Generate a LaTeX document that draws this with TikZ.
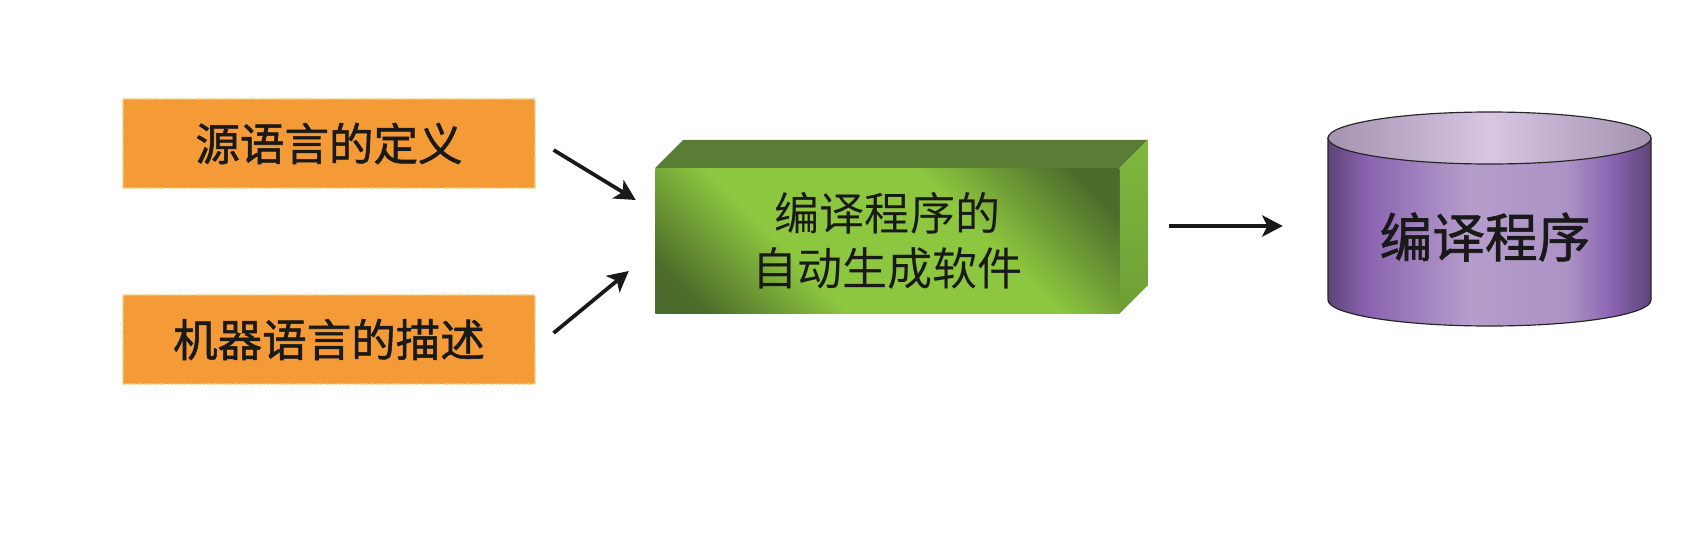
\documentclass[tikz,border=0pt]{standalone}
\usepackage{fontspec}
\newfontfamily\cjk{Noto Sans CJK SC}
\newfontfamily\cjkb{Noto Sans CJK SC}[FakeBold=1.2]
\usetikzlibrary{arrows.meta,calc}
\definecolor{orangefill}{HTML}{F49B38}
\definecolor{orangeedge}{HTML}{F9CF7E}
\definecolor{gdark}{HTML}{4A6B2B}
\definecolor{glight}{HTML}{8DC63F}
\definecolor{gtop}{HTML}{5A7D35}
\definecolor{gside}{HTML}{80B93F}
\definecolor{gsidedark}{HTML}{6E9E37}
\definecolor{cA}{HTML}{5E4479}
\definecolor{cB}{HTML}{8A63B0}
\definecolor{cC}{HTML}{B59DCB}
\definecolor{cD}{HTML}{AC92C5}
\definecolor{tA}{HTML}{A393AF}
\definecolor{tB}{HTML}{D8C6E3}
\pgfdeclarehorizontalshading{gface}{100bp}{color(0bp)=(gdark); color(20bp)=(gdark); color(37bp)=(glight); color(62bp)=(glight); color(80bp)=(gdark); color(100bp)=(gdark)}
\pgfdeclarehorizontalshading{cylbody}{100bp}{color(0bp)=(cA); color(25bp)=(cA); color(31bp)=(cB); color(47bp)=(cC); color(62bp)=(cD); color(69bp)=(cB); color(75bp)=(cA); color(100bp)=(cA)}
\pgfdeclarehorizontalshading{cyltop}{100bp}{color(0bp)=(tA); color(25bp)=(tA); color(50bp)=(tB); color(75bp)=(tA); color(100bp)=(tA)}
\tikzset{
  obox/.style={rectangle, fill=orangefill, draw=orangeedge, densely dotted, line width=1pt,
    minimum width=12.36cm, minimum height=2.67cm, inner sep=0pt,
    font=\cjkb\fontsize{38}{46}\selectfont, text=black!90},
  gbox/.style={rectangle, shading=gface, shading angle=45, minimum width=13.92cm,
    minimum height=4.35cm, inner sep=0pt, align=center,
    font=\cjk\fontsize{38.5}{47}\selectfont, text=black!90},
  arr/.style={line width=3.2pt, -{Stealth[length=0.62cm, width=0.64cm, inset=0.16cm]}, black!90},
  cyltext/.style={font=\cjkb\fontsize{45}{54}\selectfont, text=black!90, inner sep=0pt}
}
\begin{document}
\begin{tikzpicture}[x=0.03cm, y=-0.03cm]
\useasboundingbox (0,0) rectangle (1683,553);
\fill[white] (0,0) rectangle (1683,553);
% orange boxes
\node[obox] (o1) at (329,143.5) {源语言的定义};
\node[obox] (o2) at (329,339.5) {机器语言的描述};
% green box
\node[gbox] (g) at (887.5,240.5) {编译程序的\\自动生成软件};
\fill[gtop] (g.north west) -- ++(28,-28) -- ($(g.north east)+(28,-28)$) -- (g.north east) -- cycle;
\shade[top color=gside, bottom color=gsidedark] (g.north east) -- ++(28,-28) -- ($(g.south east)+(28,-28)$) -- (g.south east) -- cycle;
% cylinder
\shade[shading=cylbody, draw=black!85, line width=1pt]
  (1328,138) -- (1328,300) arc[start angle=180, end angle=0, x radius=161.5, y radius=26] -- (1651,138) -- cycle;
\shade[shading=cyltop, draw=black!85, line width=1pt] (1489.5,138) ellipse[x radius=161.5, y radius=26];
\node[minimum width=9.69cm, minimum height=4.86cm, inner sep=0pt] (cyl) at (1489.5,219) {};
\node[cyltext] (ct) at (1485,237) {编译程序};
% arrows
\draw[arr] ($(o1.east)+(18,6.5)$) -- ($(g.west)+(-19.5,-40.5)$);
\draw[arr] ($(o2.east)+(18,-6.5)$) -- ($(g.west)+(-26.5,30.5)$);
\draw[arr] ($(g.east)+(49.5,-14.5)$) -- ($(cyl.west)+(-45,7)$);
\end{tikzpicture}
\end{document}
